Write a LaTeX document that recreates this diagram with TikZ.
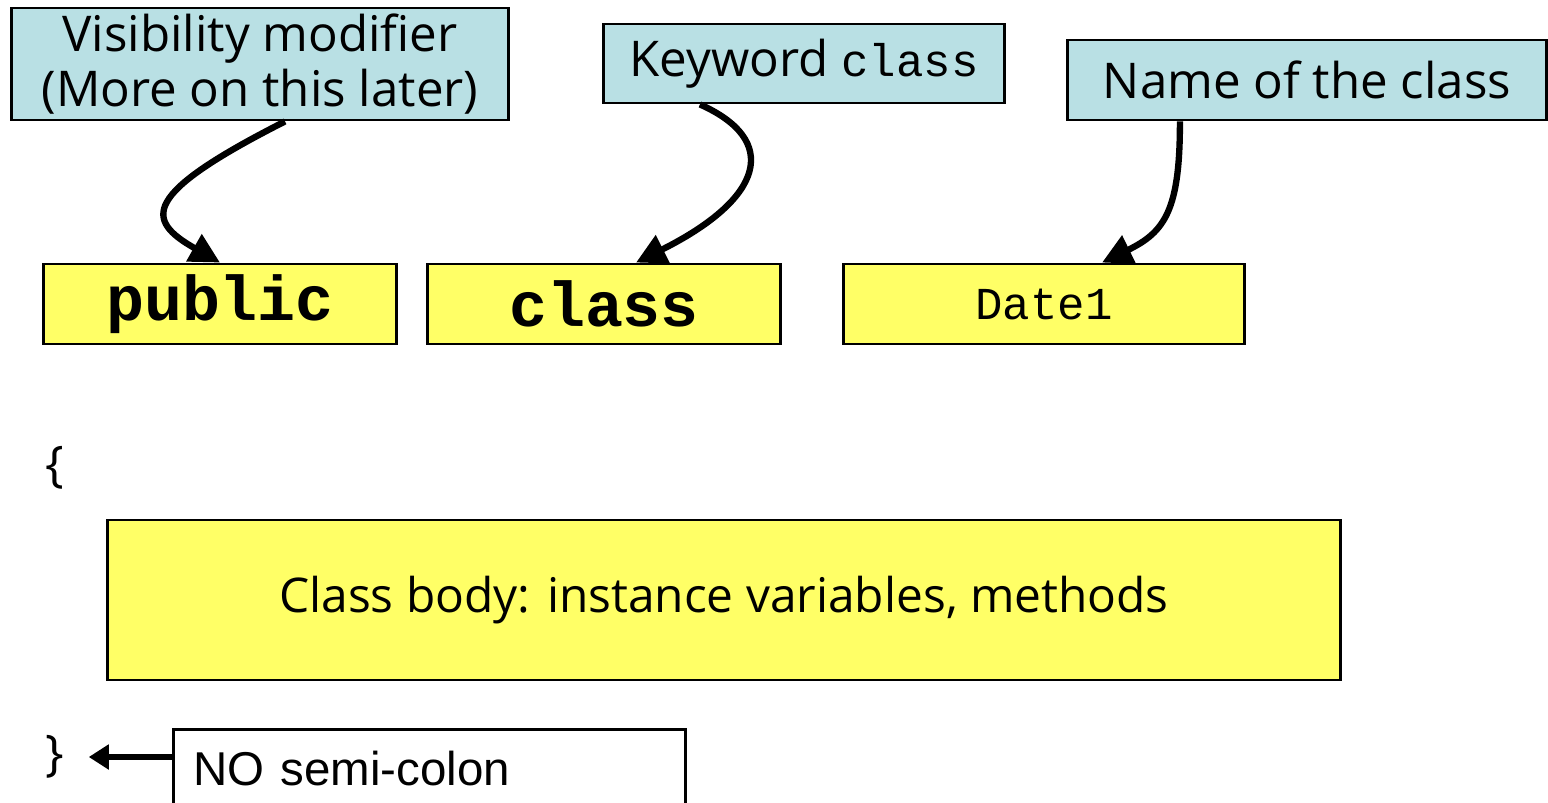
\documentclass[tikz,border=0pt]{standalone}
\usepackage{fontspec}
\setmainfont{Open Sans}
\setmonofont{Liberation Mono}
\newfontfamily\arialfont{Liberation Sans}
\usetikzlibrary{arrows.meta}
\definecolor{noteblue}{RGB}{185,224,228}
\definecolor{codeyellow}{RGB}{255,255,102}
\tikzset{
	notebox/.style={draw=black, line width=0.8pt, fill=noteblue, inner sep=0pt, align=center, font=\fontsize{14}{15.5}\selectfont},
	codebox/.style={draw=black, line width=0.8pt, fill=codeyellow, inner sep=0pt, minimum height=0.8cm},
	bentarrow/.style={line width=1.8pt, -{Triangle[length=0.3cm,width=0.3cm]}},
}

\begin{document}
\begin{tikzpicture}[x=0.01cm, y=-0.01cm]
			%%%%% START %%%%%
			\clip (0,0) rectangle (1548,803);
			
			% notes on top
			\node[notebox, minimum width=4.96cm, minimum height=1.12cm] (visib) at (260,64) {Visibility modifier\\(More on this later)};
			\node[notebox, minimum width=4.00cm, minimum height=0.79cm] (keyw) at (804,63.5) {Keyword {\ttfamily\fontsize{13}{15}\selectfont class}};
			\node[notebox, minimum width=4.78cm, minimum height=0.80cm] (clname) at (1307,80) {Name of the class};
			
			% header of the class
			\node[codebox, minimum width=3.52cm, font=\ttfamily\bfseries\fontsize{18}{20}\selectfont] (pub) at (220,304) {public};
			\node[codebox, minimum width=3.52cm, font=\ttfamily\bfseries\fontsize{18}{20}\selectfont] (cls) at (604,304) {class};
			\node[codebox, minimum width=4.00cm, font=\ttfamily\fontsize{13}{15}\selectfont] (date) at (1044,304) {Date1};
			
			\draw[bentarrow] ([xshift=0.25cm]visib.south) .. controls (140,195) and (145,220) .. (pub.north);
			\draw[bentarrow] ([xshift=-1.04cm]keyw.south) .. controls (780,140) and (765,198) .. ([xshift=0.32cm]cls.north);
			\draw[bentarrow] ([xshift=-1.27cm]clname.south) .. controls (1180,210) and (1165,232) .. ([xshift=0.58cm]date.north);
			
			% body
			\node[font=\fontsize{14}{16}\selectfont] (lbrace) at (55,468) {\{};
			\node[codebox, minimum width=12.32cm, minimum height=1.60cm, font=\fontsize{13.6}{16}\selectfont] (body) at (724,600) {Class body: instance variables, methods};
			\node[font=\fontsize{14}{16}\selectfont] (rbrace) at (55,757) {\}};
			
			\node[draw=black, line width=0.8pt, fill=white, anchor=north west, text width=4.72cm, inner xsep=0.2cm, inner ysep=0pt, minimum height=0.78cm, align=left, font=\arialfont\fontsize{13.5}{15}\selectfont] (nosemi) at (172,728) {NO semi-colon};
			\draw[line width=1.5pt, -{Triangle[length=0.2cm,width=0.24cm]}, shorten >=0.12cm] (rbrace.east -| nosemi.west) -- (rbrace.east);
			
			%%%%% END %%%%%
\end{tikzpicture}
\end{document}
